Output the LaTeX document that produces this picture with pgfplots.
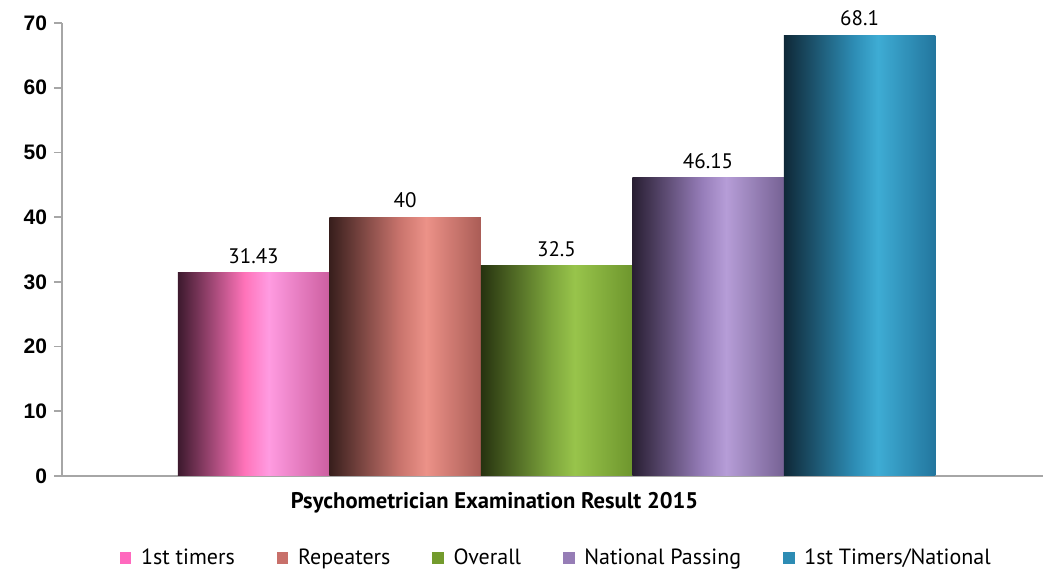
\documentclass[border=0pt]{standalone}
\usepackage{fontspec}
\setmainfont{PT Sans}
\newfontfamily\tickfont{Liberation Sans}
\usepackage{pgfplots}
\pgfplotsset{compat=1.18}

% bar shadings: dark left edge, light band right of centre
\definecolor{pinkD}{RGB}{60,25,45}\definecolor{pinkM}{RGB}{255,115,185}
\definecolor{pinkL}{RGB}{255,155,225}\definecolor{pinkR}{RGB}{205,95,160}
\definecolor{redD}{RGB}{55,30,28}\definecolor{redM}{RGB}{200,115,108}
\definecolor{redL}{RGB}{236,146,136}\definecolor{redR}{RGB}{170,92,86}
\definecolor{grnD}{RGB}{38,50,15}\definecolor{grnM}{RGB}{125,165,60}
\definecolor{grnL}{RGB}{152,196,75}\definecolor{grnR}{RGB}{110,150,45}
\definecolor{purD}{RGB}{40,30,50}\definecolor{purM}{RGB}{150,125,185}
\definecolor{purL}{RGB}{182,157,215}\definecolor{purR}{RGB}{118,98,148}
\definecolor{bluD}{RGB}{15,40,55}\definecolor{bluM}{RGB}{45,140,180}
\definecolor{bluL}{RGB}{62,172,212}\definecolor{bluR}{RGB}{35,118,158}
% legend squares
\definecolor{pinkS}{RGB}{255,105,190}
\definecolor{redS}{RGB}{200,112,106}
\definecolor{grnS}{RGB}{115,155,45}
\definecolor{purS}{RGB}{150,125,182}
\definecolor{bluS}{RGB}{45,140,180}

\pgfdeclarehorizontalshading{pinkbar}{100bp}{color(0bp)=(pinkD); color(25bp)=(pinkD); color(47bp)=(pinkM); color(55bp)=(pinkL); color(75bp)=(pinkR); color(100bp)=(pinkR)}
\pgfdeclarehorizontalshading{redbar}{100bp}{color(0bp)=(redD); color(25bp)=(redD); color(48bp)=(redM); color(57bp)=(redL); color(75bp)=(redR); color(100bp)=(redR)}
\pgfdeclarehorizontalshading{grnbar}{100bp}{color(0bp)=(grnD); color(25bp)=(grnD); color(48bp)=(grnM); color(56bp)=(grnL); color(75bp)=(grnR); color(100bp)=(grnR)}
\pgfdeclarehorizontalshading{purbar}{100bp}{color(0bp)=(purD); color(25bp)=(purD); color(48bp)=(purM); color(56bp)=(purL); color(75bp)=(purR); color(100bp)=(purR)}
\pgfdeclarehorizontalshading{blubar}{100bp}{color(0bp)=(bluD); color(25bp)=(bluD); color(48bp)=(bluM); color(56bp)=(bluL); color(75bp)=(bluR); color(100bp)=(bluR)}

\pgfplotsset{sq/.style={legend image code/.code={\fill[#1] (0pt,-2.6pt) rectangle (5.2pt,2.6pt);}}}

\begin{document}
\begin{tikzpicture}
\useasboundingbox (-31pt,-47.5pt) rectangle (490.5pt,238pt);
\begin{axis}[
    at={(0,0)}, anchor=south west,
    scale only axis, width=490.5pt, height=226.5pt,
    clip=false,
    ybar, bar width=1, bar shift=0pt,
    xmin=-1.264, xmax=5.211, ymin=0, ymax=70,
    axis lines*=left,
    axis line style={-, draw=black!35, line width=0.8pt},
    xtick=\empty,
    ytick={0,10,...,70},
    tick align=outside,
    major tick length=4pt,
    ytick style={draw=black!35, line width=0.8pt},
    yticklabel style={font=\tickfont\bfseries\fontsize{10.5}{12}\selectfont},
    /pgf/number format/assume math mode=true,
    nodes near coords,
    every node near coord/.append style={font=\fontsize{10.5}{12}\selectfont, black, yshift=1pt},
    legend columns=-1,
    legend style={at={(0.505,-0.181)}, anchor=center, draw=none, fill=none,
        font=\fontsize{11}{12}\selectfont,
        /tikz/every odd column/.append style={column sep=3pt},
        /tikz/every even column/.append style={column sep=19pt}},
]
\addplot[draw=none, shade, shading=pinkbar, forget plot] coordinates {(0,31.43)};
\addplot[draw=none, shade, shading=redbar, forget plot] coordinates {(1,40)};
\addplot[draw=none, shade, shading=grnbar, forget plot] coordinates {(2,32.5)};
\addplot[draw=none, shade, shading=purbar, forget plot] coordinates {(3,46.15)};
\addplot[draw=none, shade, shading=blubar, forget plot] coordinates {(4,68.1)};
\addlegendimage{sq=pinkS}\addlegendentry{1st timers}
\addlegendimage{sq=redS}\addlegendentry{Repeaters}
\addlegendimage{sq=grnS}\addlegendentry{Overall}
\addlegendimage{sq=purS}\addlegendentry{National Passing}
\addlegendimage{sq=bluS}\addlegendentry{1st Timers/National}
\node[font=\bfseries\fontsize{11.3}{13}\selectfont] at (rel axis cs:0.441,-0.058) {Psychometrician Examination Result 2015};
\end{axis}
\end{tikzpicture}
\end{document}
